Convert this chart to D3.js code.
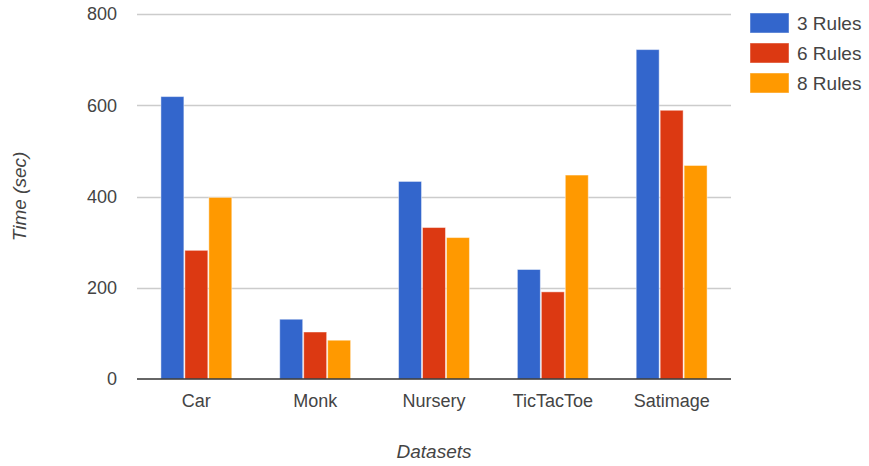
<!DOCTYPE html>
<html>
<head>
<meta charset="utf-8">
<script src="https://cdn.jsdelivr.net/npm/d3@7/dist/d3.min.js"></script>
<style>
  html, body { margin: 0; padding: 0; background: #fff; }
  svg { display: block; font-family: "Liberation Sans", Arial, sans-serif; }
</style>
</head>
<body>
<svg id="chart" width="869" height="466"></svg>
<script>
// Run time per dataset for each rule count
const datasets = ["Car", "Monk", "Nursery", "TicTacToe", "Satimage"];
const seriesNames = ["3 Rules", "6 Rules", "8 Rules"];
const rules3 = [619, 131, 433, 240, 722];
const rules6 = [282, 103, 332, 191, 589];
const rules8 = [398, 85, 310, 447, 468];
const yTicks = [0, 200, 400, 600, 800];
const colors = ["#3366cc", "#dc3912", "#ff9900"];

const seriesValues = [rules3, rules6, rules8];

const svg = d3.select("#chart");
const margin = { left: 137, right: 138, top: 14, bottom: 87 };
const W = 869, H = 466;
const plotLeft = margin.left, plotRight = W - margin.right;
const plotTop = margin.top, plotBottom = H - margin.bottom;

const x = d3.scaleBand().domain(datasets).range([plotLeft, plotRight]).paddingInner(0.395).paddingOuter(0.197);
const xs = d3.scaleBand().domain(seriesNames).range([0, x.bandwidth()]).padding(0);
const y = d3.scaleLinear().domain([0, 800]).range([plotBottom, plotTop]);

const textColor = "#444";

// Horizontal gridlines
svg.append("g")
  .selectAll("line")
  .data(yTicks.filter(t => t !== 0))
  .join("line")
  .attr("x1", plotLeft).attr("x2", plotRight)
  .attr("y1", d => Math.round(y(d)) + 0.5).attr("y2", d => Math.round(y(d)) + 0.5)
  .attr("stroke", "#cccccc").attr("stroke-width", 1.5);

// Y axis tick labels
const yAxis = d3.axisLeft(y).tickValues(yTicks).tickSize(0).tickPadding(20);
const gy = svg.append("g").attr("transform", `translate(${plotLeft},0)`).call(yAxis);
gy.select(".domain").remove();
gy.selectAll("text")
  .attr("fill", textColor)
  .style("font-size", "18px")
  .style("font-family", "'Liberation Sans', Arial, sans-serif");

// Bars
const groups = svg.append("g")
  .selectAll("g")
  .data(datasets)
  .join("g")
  .attr("transform", d => `translate(${x(d)},0)`);

groups.selectAll("rect")
  .data((d, i) => seriesNames.map((s, j) => ({ s, v: seriesValues[j][i], c: colors[j] })))
  .join("rect")
  .attr("x", d => xs(d.s) + 0.5)
  .attr("width", xs.bandwidth() - 1)
  .attr("y", d => y(d.v))
  .attr("height", d => y(0) - y(d.v))
  .attr("fill", d => d.c)
  .attr("stroke", "#ffffff")
  .attr("stroke-opacity", 0.45)
  .attr("stroke-width", 1);

// Baseline
svg.append("line")
  .attr("x1", plotLeft).attr("x2", plotRight)
  .attr("y1", y(0)).attr("y2", y(0))
  .attr("stroke", "#333").attr("stroke-width", 1.5);

// X axis labels
const xAxis = d3.axisBottom(x).tickSize(0).tickPadding(15);
const gx = svg.append("g").attr("transform", `translate(0,${plotBottom})`).call(xAxis);
gx.select(".domain").remove();
gx.selectAll("text")
  .attr("fill", textColor)
  .style("font-size", "18px")
  .style("font-family", "'Liberation Sans', Arial, sans-serif");

// Axis titles
svg.append("text")
  .attr("x", (plotLeft + plotRight) / 2)
  .attr("y", 458)
  .attr("text-anchor", "middle")
  .attr("fill", textColor)
  .style("font-size", "19px")
  .style("font-style", "italic")
  .text("Datasets");

svg.append("text")
  .attr("transform", `translate(26,${(plotTop + plotBottom) / 2}) rotate(-90)`)
  .attr("text-anchor", "middle")
  .attr("fill", textColor)
  .style("font-size", "19px")
  .style("font-style", "italic")
  .text("Time (sec)");

// Legend
const legend = svg.append("g").attr("transform", "translate(750,13)");
const items = legend.selectAll("g")
  .data(seriesNames)
  .join("g")
  .attr("transform", (d, i) => `translate(0,${i * 30})`);
items.append("rect")
  .attr("width", 39).attr("height", 20)
  .attr("fill", (d, i) => colors[i])
  .attr("stroke", "#ffffff").attr("stroke-opacity", 0.45);
items.append("text")
  .attr("x", 47).attr("y", 10)
  .attr("dy", "0.35em")
  .attr("fill", textColor)
  .style("font-size", "19px")
  .text(d => d);
</script>
</body>
</html>
